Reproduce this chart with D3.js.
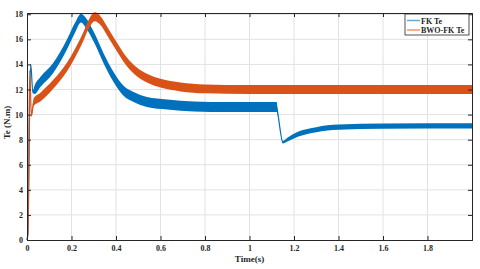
<!DOCTYPE html>
<html>
<head>
<meta charset="utf-8">
<script src="https://cdn.jsdelivr.net/npm/d3@7"></script>
<style>
  body { margin: 0; background: #fff; }
  text { font-family: "Liberation Serif", "DejaVu Serif", serif; font-weight: bold; fill: #262626; }
</style>
</head>
<body>
<svg id="chart"></svg>
<script>
// FK Te (blue)
var fkTime   = [0, 0.004, 0.016, 0.019, 0.026, 0.035, 0.06, 0.117, 0.18, 0.215, 0.243, 0.265, 0.30, 0.344, 0.389, 0.434, 0.479, 0.539, 0.63, 0.75, 0.9, 1.122, 1.128, 1.15, 1.17, 1.22, 1.3, 1.4, 1.6, 2.0];
var fkTe     = [0, 0.5, 14.0, 13.6, 11.8, 12.0, 12.6, 13.7, 15.6, 16.9, 17.7, 17.3, 16.2, 14.5, 13.0, 11.9, 11.4, 11.0, 10.8, 10.65, 10.6, 10.6, 10.0, 7.8, 8.0, 8.45, 8.8, 9.0, 9.08, 9.1];
var fkRipple = [0, 0, 0, 0, 0.1, 0.35, 0.4, 0.4, 0.4, 0.4, 0.35, 0.4, 0.4, 0.4, 0.4, 0.4, 0.4, 0.4, 0.4, 0.4, 0.4, 0.4, 0.1, 0.1, 0.15, 0.2, 0.2, 0.2, 0.2, 0.2];

// BWO-FK Te (orange)
var bwoTime   = [0, 0.004, 0.012, 0.02, 0.03, 0.06, 0.117, 0.18, 0.25, 0.28, 0.305, 0.33, 0.359, 0.404, 0.449, 0.494, 0.539, 0.6, 0.69, 0.8, 1.0, 2.0];
var bwoTe     = [0, 0.5, 13.5, 9.9, 11.0, 11.4, 12.4, 13.8, 16.1, 17.3, 17.8, 17.5, 16.7, 15.4, 14.2, 13.4, 12.9, 12.5, 12.2, 12.05, 12.0, 12.0];
var bwoRipple = [0, 0, 0, 0.1, 0.3, 0.35, 0.35, 0.35, 0.35, 0.35, 0.35, 0.35, 0.35, 0.35, 0.35, 0.35, 0.35, 0.35, 0.35, 0.35, 0.35, 0.35];

var xTicks = [0, 0.2, 0.4, 0.6, 0.8, 1, 1.2, 1.4, 1.6, 1.8];
var yTicks = [0, 2, 4, 6, 8, 10, 12, 14, 16, 18];
var seriesNames = ["FK Te", "BWO-FK Te"];
var colors = ["#0072BD", "#D95319"];

var W = 480, H = 269;
var margin = {left: 27, right: 8, top: 13, bottom: 29};

var svg = d3.select("#chart").attr("width", W).attr("height", H);

var x = d3.scaleLinear().domain([0, 2]).range([margin.left, W - margin.right]);
var y = d3.scaleLinear().domain([0, 18.1]).range([H - margin.bottom, margin.top]);

// grid
svg.append("g").selectAll("line").data(xTicks.slice(1)).enter().append("line")
    .attr("x1", d => x(d)).attr("x2", d => x(d))
    .attr("y1", y(0)).attr("y2", margin.top)
    .attr("stroke", "#e2e2e2").attr("stroke-width", 1);
svg.append("g").selectAll("line").data(yTicks.slice(1)).enter().append("line")
    .attr("x1", x(0)).attr("x2", x(2))
    .attr("y1", d => y(d)).attr("y2", d => y(d))
    .attr("stroke", "#e2e2e2").attr("stroke-width", 1);

function makeRows(t, v, r) {
    return t.map((d, i) => ({t: d, v: v[i], r: r[i]}));
}
var series = [makeRows(fkTime, fkTe, fkRipple), makeRows(bwoTime, bwoTe, bwoRipple)];

var area = d3.area()
    .x(d => x(d.t))
    .y0(d => y(d.v - d.r))
    .y1(d => y(d.v + d.r))
    .curve(d3.curveMonotoneX);
var line = d3.line()
    .x(d => x(d.t))
    .y(d => y(d.v))
    .curve(d3.curveMonotoneX);

series.forEach(function(s, i) {
    svg.append("path").datum(s)
        .attr("d", area)
        .attr("fill", colors[i]);
    svg.append("path").datum(s)
        .attr("d", line)
        .attr("fill", "none")
        .attr("stroke", colors[i])
        .attr("stroke-width", 1.2);
});

// axes (MATLAB style, ticks inside, box)
var xAxis = d3.axisBottom(x).tickValues(xTicks).tickSize(-4).tickPadding(5).tickFormat(d3.format("~g"));
var yAxis = d3.axisLeft(y).tickValues(yTicks).tickSize(-4).tickPadding(4);
var xTop = d3.axisTop(x).tickValues(xTicks).tickSize(-4).tickFormat("");
var yRight = d3.axisRight(y).tickValues(yTicks).tickSize(-4).tickFormat("");

function styleAxis(g) {
    g.select(".domain").attr("stroke", "#262626").attr("stroke-width", 1);
    g.selectAll(".tick line").attr("stroke", "#262626");
    g.selectAll("text").style("font-family", "Liberation Serif, serif").style("font-weight", "bold")
        .style("font-size", "8px").attr("fill", "#262626");
}

svg.append("g").attr("transform", "translate(0," + y(0) + ")").call(xAxis).call(styleAxis);
svg.append("g").attr("transform", "translate(" + x(0) + ",0)").call(yAxis).call(styleAxis);
svg.append("g").attr("transform", "translate(0," + margin.top + ")").call(xTop).call(styleAxis);
svg.append("g").attr("transform", "translate(" + x(2) + ",0)").call(yRight).call(styleAxis);

// labels
svg.append("text")
    .attr("x", x(1)).attr("y", 262)
    .attr("text-anchor", "middle")
    .style("font-size", "9px")
    .text("Time(s)");
svg.append("text")
    .attr("transform", "translate(10," + ((y(0) + margin.top) / 2 - 4) + ") rotate(-90)")
    .attr("text-anchor", "middle")
    .style("font-size", "9px")
    .text("Te (N.m)");

// legend
var lg = svg.append("g").attr("transform", "translate(405,14)");
lg.append("rect").attr("width", 64).attr("height", 21)
    .attr("fill", "#fff").attr("stroke", "#262626").attr("stroke-width", 0.8);
seriesNames.forEach(function(n, i) {
    lg.append("line").attr("x1", 2).attr("x2", 15)
        .attr("y1", 6.5 + i * 9.5).attr("y2", 6.5 + i * 9.5)
        .attr("stroke", colors[i]).attr("stroke-width", 1.5).attr("opacity", 0.6);
    lg.append("text").attr("x", 16).attr("y", 9.5 + i * 9.5)
        .style("font-size", "8px")
        .text(n);
});
</script>
</body>
</html>
